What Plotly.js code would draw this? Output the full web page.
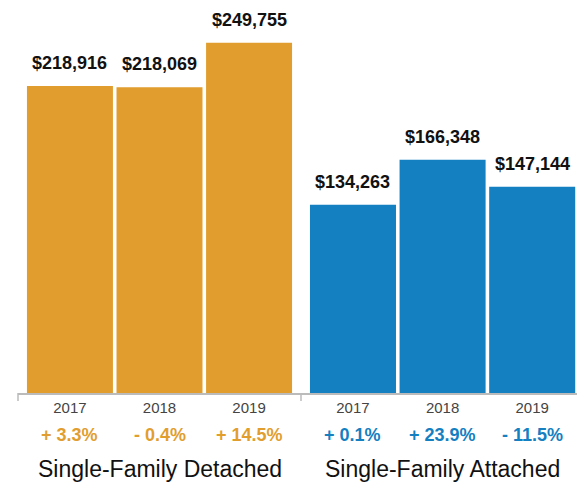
<!DOCTYPE html>
<html>
<head>
<meta charset="utf-8">
<script src="https://cdn.plot.ly/plotly-3.0.1.min.js"></script>
<style>
  html, body { margin: 0; padding: 0; background: #fff; }
  #chart { width: 577px; height: 483px; }
</style>
</head>
<body>
<div id="chart"></div>
<script>
// datos
const years = ["2017", "2018", "2019"];
const detachedPrices = [218916, 218069, 249755];
const attachedPrices = [134263, 166348, 147144];
const detachedChange = ["+ 3.3%", "- 0.4%", "+ 14.5%"];
const attachedChange = ["+ 0.1%", "+ 23.9%", "- 11.5%"];
const groupNames = ["Single-Family Detached", "Single-Family Attached"];

const ORANGE = "#E19E2F";
const BLUE = "#1580C1";
const FONT = '"Helvetica Neue", Helvetica, Arial, "Liberation Sans", sans-serif';

const fmt = v => "$" + v.toLocaleString("en-US");

const groups = [
    { prices: detachedPrices, change: detachedChange, color: ORANGE, xa: "x" },
    { prices: attachedPrices, change: attachedChange, color: BLUE, xa: "x2" }
];

const traces = groups.map(g => ({
    type: "bar",
    x: years,
    y: g.prices,
    xaxis: g.xa,
    yaxis: "y",
    marker: { color: g.color },
    hoverinfo: "skip"
}));

// en eje de categorías los años parecen números: usar el índice
let annotations = [];
groups.forEach((g, gi) => {
    years.forEach((yr, i) => {
        annotations.push({
            xref: g.xa, yref: "y", x: i, y: g.prices[i],
            text: fmt(g.prices[i]), showarrow: false,
            yanchor: "bottom", yshift: 11,
            font: { family: FONT, size: 18, color: "#111", weight: "bold" }
        });
        annotations.push({
            xref: g.xa, yref: "paper", x: i, y: -0.1126,
            text: g.change[i], showarrow: false, yanchor: "middle",
            font: { family: FONT, size: 18, color: g.color, weight: "bold" }
        });
    });
    annotations.push({
        xref: g.xa, yref: "paper", x: 1, y: -0.203,
        text: groupNames[gi], showarrow: false, yanchor: "middle",
        font: { family: FONT, size: 23, color: "#111" }
    });
});

const split = 283 / 559;
const xbase = {
    type: "category",
    showline: true, linecolor: "#bbb", linewidth: 1.5,
    showgrid: false, zeroline: false, ticks: "",
    tickfont: { family: FONT, size: 15, color: "#444" },
    fixedrange: true
};

const layout = {
    width: 577, height: 483,
    margin: { l: 18, r: 0, t: 20, b: 90 },
    paper_bgcolor: "#fff", plot_bgcolor: "#fff",
    showlegend: false,
    bargap: 0.04,
    font: { family: FONT },
    xaxis: Object.assign({}, xbase, { domain: [0, split], range: [-0.58, 2.58] }),
    xaxis2: Object.assign({}, xbase, { domain: [split, 1], range: [-0.58, 2.5], anchor: "y" }),
    yaxis: { range: [0, 266000], visible: false, fixedrange: true },
    annotations: annotations,
    shapes: [0, split].map(px => ({
        type: "line", xref: "paper", yref: "paper",
        ysizemode: "pixel", yanchor: 0,
        x0: px, x1: px, y0: 0, y1: -8,
        line: { color: "#bbb", width: 1.5 }
    }))
};

Plotly.newPlot("chart", traces, layout, { displayModeBar: false, staticPlot: true });
</script>
</body>
</html>
